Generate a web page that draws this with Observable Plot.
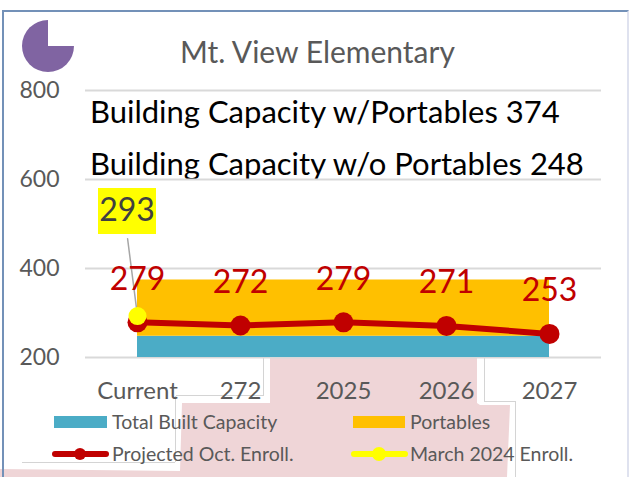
<!DOCTYPE html>
<html>
<head>
<meta charset="utf-8">
<script src="https://cdn.jsdelivr.net/npm/d3@7"></script>
<script src="https://cdn.jsdelivr.net/npm/@observablehq/plot@0.6"></script>
<style>
html,body{margin:0;padding:0;background:#fff;}
#chart{position:relative;width:630px;height:477px;overflow:hidden;font-family:Lato,sans-serif;background:#fff;}
#chart svg{position:absolute;left:0;top:0;background:transparent;}
.abs{position:absolute;white-space:nowrap;}
#pink{left:0;top:0;width:630px;height:477px;background:#efd5d7;
 clip-path:polygon(270px 358px,477px 358px,477px 403px,480px 405px,510px 405px,507px 477px,0 477px,0 469px,180px 471px,182px 403px,270px 403px);}
#frame{left:2px;top:10px;width:627px;height:470px;box-sizing:border-box;border-left:2px solid #7391b8;border-top:2px solid #7391b8;border-right:2px solid #dfe2ef;}
#pie{left:22px;top:20px;width:52px;height:52px;border-radius:50%;background:conic-gradient(transparent 0 90deg,#8064a2 90deg 360deg);}
.title{color:#595959;font-size:30px;left:180px;top:33px;}
.note{color:#000;font-size:31px;left:90px;}
.lg{color:#595959;font-size:19.5px;}
.sw{position:absolute;}
.scrap{position:absolute;background:#d4d4d4;}
</style>
</head>
<body>
<div id="chart">
  <div id="pink" class="abs"></div>
  <div class="scrap" style="left:263px;top:358px;width:1px;height:37px"></div>
  <div class="scrap" style="left:176px;top:395px;width:88px;height:1px"></div>
  <div class="scrap" style="left:175px;top:396px;width:1px;height:66px"></div>
  <div class="scrap" style="left:22px;top:462px;width:153px;height:1px"></div>
  <div class="scrap" style="left:484px;top:358px;width:1px;height:43px"></div>
  <div class="scrap" style="left:484px;top:401px;width:32px;height:1px"></div>
  <div class="scrap" style="left:515px;top:402px;width:1px;height:75px"></div>
  <div id="frame" class="abs"></div>
  <div id="pie" class="abs"></div>
  <div class="abs title">Mt. View Elementary</div>
  <div class="abs note" style="top:92px">Building Capacity w/Portables 374</div>
  <div class="abs note" style="top:144px">Building Capacity w/o Portables 248</div>
  <div class="sw" style="left:54px;top:416px;width:53px;height:12px;background:#4bacc6"></div>
  <div class="abs lg" style="left:112px;top:410px">Total Built Capacity</div>
  <div class="sw" style="left:353px;top:416px;width:52px;height:12px;background:#ffc000"></div>
  <div class="abs lg" style="left:410px;top:410px">Portables</div>
  <div class="sw" style="left:52px;top:451px;width:57px;height:6px;border-radius:3px;background:#c00000"></div>
  <div class="sw" style="left:74px;top:448px;width:12px;height:12px;border-radius:50%;background:#c00000"></div>
  <div class="abs lg" style="left:112px;top:442px">Projected Oct. Enroll.</div>
  <div class="sw" style="left:351px;top:451px;width:57px;height:6px;border-radius:3px;background:#ffff00"></div>
  <div class="sw" style="left:372px;top:447px;width:14px;height:14px;border-radius:50%;background:#ffff00"></div>
  <div class="abs lg" style="left:410px;top:442px">March 2024 Enroll.</div>
</div>
<script>
const categories = ["Current", "272", "2025", "2026", "2027"];
const builtCapacity = [248, 248, 248, 248, 248];
const withPortables = [374, 374, 374, 374, 374];
const projected = [279, 272, 279, 271, 253];
const marchCategory = ["Current"];
const marchEnroll = [293];
const yTicks = [200, 400, 600, 800];

const rows = categories.map((c, i) => ({c, built: builtCapacity[i], total: withPortables[i], p: projected[i]}));
const marchRows = marchCategory.map((c, i) => ({c, v: marchEnroll[i]}));

const leader = {draw(ctx, l) { ctx.moveTo(0, 0); ctx.lineTo(0, -l); }};
const tag = {draw(ctx) { ctx.rect(-29, -23, 58, 46); }};

const plot = Plot.plot({
  width: 630, height: 477,
  marginLeft: 85, marginRight: 29, marginTop: 90, marginBottom: 120,
  style: {background: "transparent", fontFamily: "Lato, sans-serif"},
  x: {type: "point", domain: categories, padding: 0.5},
  y: {domain: [200, 800]},
  marks: [
    Plot.gridY(yTicks, {stroke: "#d9d9d9", strokeOpacity: 1, strokeWidth: 2}),
    Plot.areaY(rows, {x: "c", y1: 200, y2: "built", fill: "#4bacc6"}),
    Plot.areaY(rows, {x: "c", y1: "built", y2: "total", fill: "#ffc000"}),
    Plot.line(rows, {x: "c", y: "p", stroke: "#c00000", strokeWidth: 6}),
    Plot.dot(rows, {x: "c", y: "p", r: 10, fill: "#c00000"}),
    Plot.vector(marchRows, {x: "c", y: "v", length: 78, rotate: -7.3, anchor: "start", shape: leader, stroke: "#a6a6a6", strokeWidth: 1.5}),
    Plot.dot(marchRows, {x: "c", y: "v", r: 9, fill: "#ffff00"}),
    Plot.vector(marchRows, {x: "c", y: "v", length: 1, anchor: "start", shape: tag, fill: "#ffff00", stroke: "none", dx: -10.5, dy: -105}),
    Plot.text(marchRows, {x: "c", y: "v", text: "v", fill: "#404040", fontSize: 32, dx: -10.5, dy: -105}),
    Plot.text(rows, {x: "c", y: "p", text: "p", fill: "#c00000", fontSize: 32, dy: -43}),
    Plot.axisY({ticks: yTicks, tickSize: 0, tickPadding: 26, fontSize: 23, fill: "#595959", label: null}),
    Plot.axisX({tickSize: 0, tickPadding: 24, fontSize: 24, fill: "#595959", label: null})
  ]
});
document.getElementById("chart").appendChild(plot);
</script>
</body>
</html>
